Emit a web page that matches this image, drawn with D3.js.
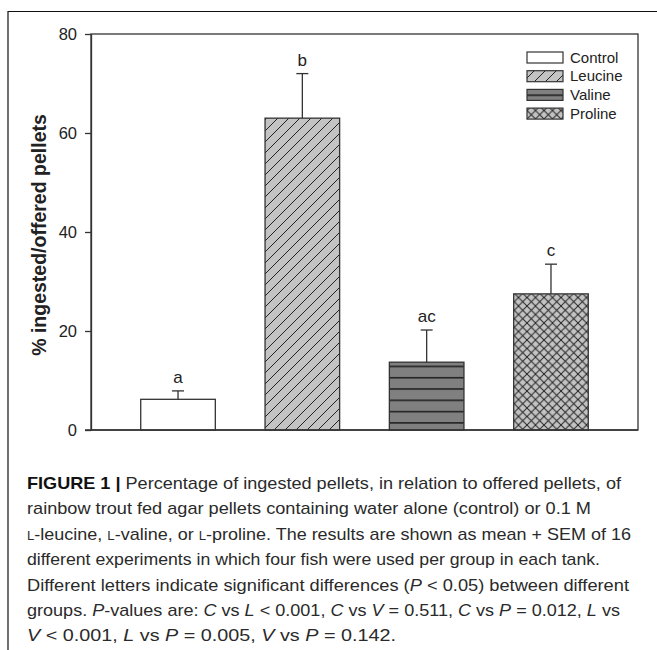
<!DOCTYPE html>
<html><head><meta charset="utf-8">
<script src="https://cdn.jsdelivr.net/npm/d3@7"></script>
<style>
html,body{margin:0;padding:0;background:#fff;}
svg{display:block;font-family:"Liberation Sans",Arial,sans-serif;}
</style></head>
<body>
<svg id="chart" width="657" height="650"></svg>
<script>
const categories = ["Control","Leucine","Valine","Proline"];
const means = [6.2, 63, 13.7, 27.5];
const sems = [1.7, 9, 6.5, 6];
const letters = ["a","b","ac","c"];
const yTicks = [0,20,40,60,80];
const yLabel = "% ingested/offered pellets";

const svg = d3.select("#chart");
const defs = svg.append("defs");

// patterns
const pL = defs.append("pattern").attr("id","pLeu").attr("patternUnits","userSpaceOnUse")
  .attr("width",11).attr("height",11);
pL.append("rect").attr("width",11).attr("height",11).attr("fill","#c3c3c3");
pL.append("path").attr("d","M-2,13 L13,-2 M-2,2 L2,-2 M9,13 L13,9").attr("stroke","#222").attr("stroke-width",1);

const pV = defs.append("pattern").attr("id","pVal").attr("patternUnits","userSpaceOnUse")
  .attr("width",10).attr("height",11.3).attr("y",4);
pV.append("rect").attr("width",10).attr("height",11.3).attr("fill","#808080");
pV.append("line").attr("x1",0).attr("x2",10).attr("y1",0.8).attr("y2",0.8).attr("stroke","#222").attr("stroke-width",1.6);

const pP = defs.append("pattern").attr("id","pPro").attr("patternUnits","userSpaceOnUse")
  .attr("width",8.5).attr("height",8.5);
pP.append("rect").attr("width",8.5).attr("height",8.5).attr("fill","#c3c3c3");
pP.append("path").attr("d","M0,0 L8.5,8.5 M0,8.5 L8.5,0").attr("stroke","#222").attr("stroke-width",1);

const fills = ["#ffffff","url(#pLeu)","url(#pVal)","url(#pPro)"];

// outer figure frame
svg.append("path").attr("d","M8,650 L8,11.5 L657,11.5").attr("fill","none").attr("stroke","#111").attr("stroke-width",1.2);

const m = {l:91, r:638, t:34, b:430};
const x = d3.scaleBand().domain(categories).range([m.l,m.r]).padding(0.4);
const y = d3.scaleLinear().domain([0,80]).range([m.b,m.t]);

// plot box
svg.append("rect").attr("x",m.l).attr("y",m.t).attr("width",m.r-m.l).attr("height",m.b-m.t)
  .attr("fill","none").attr("stroke","#333").attr("stroke-width",1.3);

const yAxis = svg.append("g").attr("transform",`translate(${m.l},0)`)
  .call(d3.axisLeft(y).tickValues(yTicks).tickSize(6).tickSizeOuter(0).tickPadding(8));
yAxis.select(".domain").attr("stroke","#333").attr("stroke-width",1.3);
yAxis.selectAll(".tick line").attr("stroke","#333").attr("stroke-width",1.3);
yAxis.selectAll(".tick text").attr("font-size",16.5).attr("fill","#222").attr("font-family","Liberation Sans, Arial, sans-serif");

svg.append("text").attr("transform",`translate(46,${(m.t+m.b)/2 + 3}) rotate(-90)`)
  .attr("text-anchor","middle").attr("font-size",19.5).attr("font-weight","bold").attr("fill","#222")
  .text(yLabel);

// bars
const g = svg.append("g");
categories.forEach((c,i)=>{
  const bx = x(c), bw = x.bandwidth();
  g.append("rect").attr("x",bx).attr("y",y(means[i])).attr("width",bw).attr("height",y(0)-y(means[i]))
    .attr("fill",fills[i]).attr("stroke","#333").attr("stroke-width",1.3);
  const cx = bx+bw/2;
  const top = y(means[i]+sems[i]);
  g.append("line").attr("x1",cx).attr("x2",cx).attr("y1",y(means[i])).attr("y2",top).attr("stroke","#333").attr("stroke-width",1.3);
  g.append("line").attr("x1",cx-6).attr("x2",cx+6).attr("y1",top).attr("y2",top).attr("stroke","#333").attr("stroke-width",1.3);
  g.append("text").attr("x",cx).attr("y",top-8).attr("text-anchor","middle").attr("font-size",17).attr("fill","#222").text(letters[i]);
});
// redraw baseline on top
svg.append("line").attr("x1",m.l-6).attr("x2",m.r).attr("y1",m.b).attr("y2",m.b).attr("stroke","#333").attr("stroke-width",1.3);

// legend
const lg = svg.append("g");
categories.forEach((c,i)=>{
  const yy = 52 + i*18.7;
  lg.append("rect").attr("x",527).attr("y",yy).attr("width",36).attr("height",11)
    .attr("fill",fills[i]).attr("stroke","#333").attr("stroke-width",1.2);
  lg.append("text").attr("x",570).attr("y",yy+10.5).attr("font-size",15).attr("fill","#222").text(c);
});

// caption
const I = "i", B = "b", S = "s", N = "n";
const capLines = [
  [["FIGURE 1 | ",B],["Percentage of ingested pellets, in relation to offered pellets, of",N]],
  [["rainbow trout fed agar pellets containing water alone (control) or 0.1 M",N]],
  [["L",S],["-leucine, ",N],["L",S],["-valine, or ",N],["L",S],["-proline. The results are shown as mean + SEM of 16",N]],
  [["different experiments in which four fish were used per group in each tank.",N]],
  [["Different letters indicate significant differences (",N],["P",I],[" < 0.05) between different",N]],
  [["groups. ",N],["P",I],["-values are: ",N],["C",I],[" vs ",N],["L",I],[" < 0.001, ",N],["C",I],[" vs ",N],["V",I],[" = 0.511, ",N],["C",I],[" vs ",N],["P",I],[" = 0.012, ",N],["L",I],[" vs",N]],
  [["V",I],[" < 0.001, ",N],["L",I],[" vs ",N],["P",I],[" = 0.005, ",N],["V",I],[" vs ",N],["P",I],[" = 0.142.",N]]
];
const targetW = [594, 564, 604, 573, 602, 593, 369];
const cap = svg.append("g");
capLines.forEach((segs,li)=>{
  const t = cap.append("text").attr("x",27).attr("y",489+li*25.4).attr("font-size",17).attr("fill","#2a2a2a");
  segs.forEach(([s,st])=>{
    const ts = t.append("tspan").text(s);
    if(st===B) ts.attr("font-weight","bold").attr("fill","#111");
    if(st===I) ts.attr("font-style","italic");
    if(st===S) ts.attr("font-size",12.5);
  });
  const w = t.node().getComputedTextLength();
  if (Math.abs(w-targetW[li])>2) t.attr("textLength",targetW[li]).attr("lengthAdjust","spacingAndGlyphs");
});
</script>
</body></html>
